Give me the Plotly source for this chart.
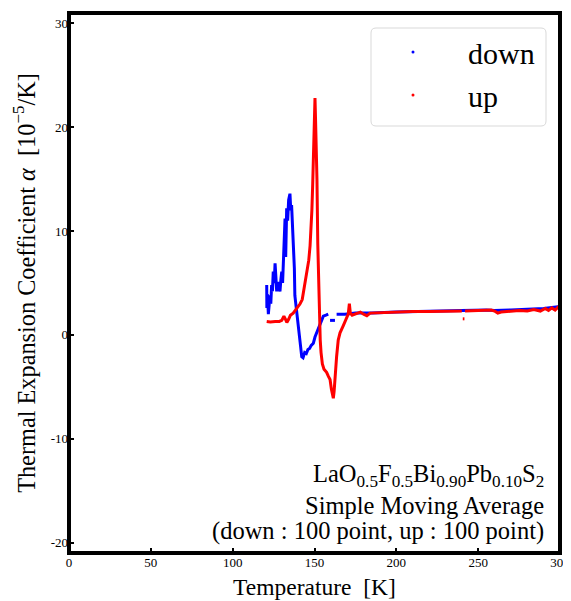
import plotly.graph_objects as go

# ---------------- data ----------------
down_T = [120.8, 120.9, 121.3, 121.8, 122.3, 122.8, 123.3, 123.8, 124.3, 124.8,
          125.4, 125.9, 126.4, 126.9, 127.4, 127.9, 128.4, 128.9, 129.5, 130.0,
          130.5, 131.0, 131.5, 132.0, 132.4, 133.0, 133.6, 134.2, 135.0, 135.5,
          136.0, 136.5, 137.0, 137.7, 138.0, 139.0, 140.0, 140.6, 141.5, 142.2,
          143.0, 144.0, 145.0, 146.0, 147.0, 148.0, 149.3, 150.3, 151.3, 152.3,
          153.4, 154.4, 155.4, 157.0, 158.4, None, 159.5, 162.5, None, 163.5,
          168.6, 175.0, 185.0, 200.0, 220.0, 240.0, 255.0, 260.0, 270.0, 280.0,
          290.0, 300.0]
down_a = [4.8, 2.6, 3.9, 2.0, 2.9, 3.8, 3.0, 4.8, 4.2, 6.1,
          5.0, 6.9, 5.6, 4.2, 4.9, 5.1, 4.5, 4.2, 5.4, 6.1,
          5.0, 7.4, 9.6, 11.2, 7.5, 12.2, 11.0, 13.0, 13.6, 12.0,
          12.5, 11.0, 9.6, 6.4, 3.8, 2.2, 1.0, 0.2, -1.1, -2.1,
          -2.2, -1.7, -1.8, -1.4, -1.3, -1.0, -0.8, -0.2, 0.2, 0.7,
          1.1, 1.5, 1.8, 1.9, 2.0, None, 1.4, 1.4, None, 2.0,
          2.0, 2.1, 2.1, 2.2, 2.3, 2.35, 2.4, 2.35, 2.4, 2.45,
          2.55, 2.75]

up_T = [120.8, 123.0, 126.0, 128.5, 130.0, 131.3, 132.3, 133.1, 134.2, 135.3,
        137.0, 139.0, 141.2, 142.5, 143.5, 144.5, 145.5, 146.5, 147.3, 147.9,
        148.4, 148.9, 149.4, 149.9, 150.3, 150.6, 151.0, 151.5, 152.0, 152.6,
        152.9, 153.5, 154.0, 154.8, 155.8, 157.4, 158.5, 159.5, 160.3, 161.0,
        161.5, 162.0, 162.6, 163.5, 164.5, 165.6, 167.6, 169.7, 170.6, 171.3,
        171.9, 173.0, 175.8, 178.0, 180.0, 182.0, 184.0, 190.0, 200.0, 210.0,
        220.0, 230.0, 240.0, None, 240.6, 241.6, None, 242.0, 250.0, 258.0,
        260.0, 262.0, 264.0, 270.0, 275.0, 280.0, 284.0, 288.0, 291.0, 293.0,
        295.0, 297.0, 299.0, 300.0]
up_a = [1.3, 1.25, 1.3, 1.3, 1.4, 1.8, 1.5, 1.2, 1.5, 1.9,
        2.1, 2.5, 3.0, 3.4, 4.3, 5.1, 6.1, 7.2, 8.6, 10.2,
        12.0, 14.5, 17.5, 20.5, 22.8, 21.0, 19.1, 15.0, 8.8, 4.0,
        2.4, -0.5, -1.7, -2.8, -3.3, -3.6, -4.0, -4.3, -5.2, -6.0,
        -6.1, -5.4, -3.8, -2.1, -0.5, 0.2, 0.9, 1.6, 2.0, 3.0,
        2.1, 1.9, 2.1, 2.2, 2.0, 1.85, 2.1, 2.15, 2.2, 2.25,
        2.25, 2.3, 2.3, None, 1.55, 1.55, None, 2.3, 2.35, 2.4,
        2.3, 2.1, 2.2, 2.3, 2.35, 2.3, 2.45, 2.3, 2.55, 2.35,
        2.6, 2.4, 2.7, 2.6]

x_ticks = [0, 50, 100, 150, 200, 250, 300]
y_ticks = [-20, -10, 0, 10, 20, 30]
y_tick_text = ["-20", "-10", "0", "10", "20", "30"]
x_range = [0, 300]
y_range = [-21, 31]

note_lines = [
    "LaO<sub>0.5</sub>F<sub>0.5</sub>Bi<sub>0.90</sub>Pb<sub>0.10</sub>S<sub>2</sub>",
    "Simple Moving Average",
    "(down : 100 point, up : 100 point)",
]

FONT = "Liberation Serif"
# the page body has an 8px margin, so the figure is drawn 8px in from the corner
OFF = 8
W, H = 571 - OFF, 601 - OFF
ML, MR, MT, MB = 69 - OFF, 11, 13 - OFF, 48
PW, PH = W - ML - MR, H - MT - MB


def px2paper(px, py):
    """screen pixel (of the 571x601 window) -> paper coordinates"""
    return (px - OFF - ML) / PW, (H - MB - (py - OFF)) / PH


fig = go.Figure()
fig.add_trace(go.Scatter(x=down_T, y=down_a, mode="lines", name="down",
                         line=dict(color="#0000ff", width=3), showlegend=False,
                         connectgaps=False))
fig.add_trace(go.Scatter(x=up_T, y=up_a, mode="lines", name="up",
                         line=dict(color="#ff0000", width=3), showlegend=False,
                         connectgaps=False))
# legend entries (dot markers, like the reference)
fig.add_trace(go.Scatter(x=[None], y=[None], mode="markers", name="down",
                         marker=dict(color="#0000ff", size=3), legendgroup="a"))
fig.add_trace(go.Scatter(x=[None], y=[None], mode="markers", name="up",
                         marker=dict(color="#ff0000", size=3), legendgroup="b"))

# rounded legend frame
x0, y1 = px2paper(371, 28)
x1, y0 = px2paper(546, 126)
rx, ry = 5 / PW, 5 / PH
path = (f"M{x0+rx},{y0} L{x1-rx},{y0} Q{x1},{y0} {x1},{y0+ry} "
        f"L{x1},{y1-ry} Q{x1},{y1} {x1-rx},{y1} L{x0+rx},{y1} "
        f"Q{x0},{y1} {x0},{y1-ry} L{x0},{y0+ry} Q{x0},{y0} {x0+rx},{y0} Z")
fig.add_shape(type="path", path=path, xref="paper", yref="paper",
              line=dict(color="#d9d9d9", width=1), fillcolor="rgba(255,255,255,0.8)",
              layer="above")
# thick frame
fig.add_shape(type="rect", xref="paper", yref="paper", x0=0, y0=0, x1=1, y1=1,
              line=dict(color="black", width=4), layer="above")

lx, ly = px2paper(358, 26)
fig.update_layout(
    width=W, height=H,
    margin=dict(l=ML, r=MR, t=MT, b=MB),
    paper_bgcolor="white", plot_bgcolor="white",
    font=dict(family=FONT, color="black"),
    showlegend=True,
    legend=dict(x=lx, y=ly, xanchor="left", yanchor="top",
                bgcolor="rgba(0,0,0,0)", borderwidth=0,
                font=dict(family=FONT, size=30, color="black"),
                tracegroupgap=1, itemwidth=100),
    xaxis=dict(range=x_range, tickvals=x_ticks, ticks="inside", ticklen=5,
               tickwidth=2, tickcolor="black", showgrid=False, zeroline=False,
               showline=False, automargin=False, tickfont=dict(family=FONT, size=13),
               title=dict(text="Temperature  [K]", font=dict(family=FONT, size=23.5),
                          standoff=9)),
    yaxis=dict(range=y_range, tickvals=y_ticks, ticktext=y_tick_text,
               ticks="inside", ticklen=5, tickwidth=2, tickcolor="black",
               showgrid=False, zeroline=False, showline=False, automargin=False,
               tickfont=dict(family=FONT, size=13),
               title=dict(text="Thermal Expansion Coefficient <i>α</i>  [10<sup>−5</sup>/K]",
                          font=dict(family=FONT, size=24.3), standoff=8)),
)

for line, yc in zip(note_lines, [475, 505, 531]):
    ax, ay = px2paper(546, yc)
    fig.add_annotation(text=line, xref="paper", yref="paper", x=ax, y=ay,
                       xanchor="right", yanchor="middle", align="right",
                       showarrow=False, font=dict(family=FONT, size=24.5, color="black"))

fig.write_html("out.html")
